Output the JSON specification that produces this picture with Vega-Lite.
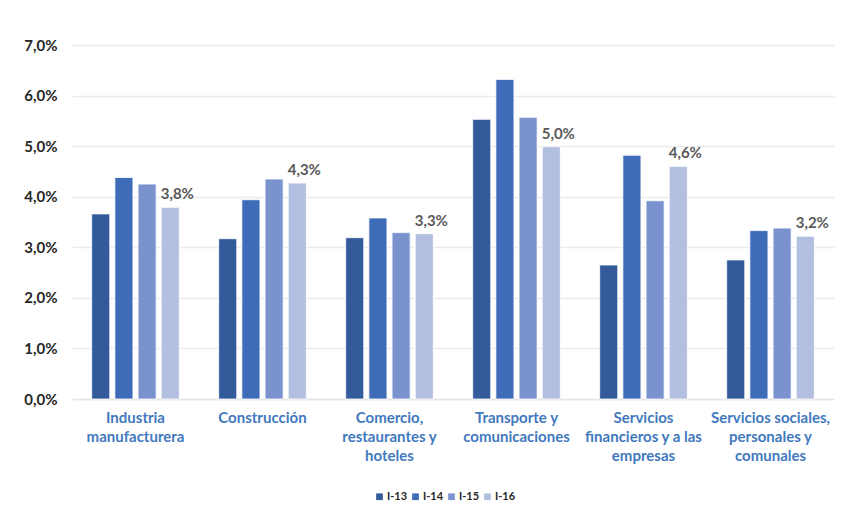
{
  "$schema": "https://vega.github.io/schema/vega-lite/v6.json",
  "autosize": "none",
  "width": 762,
  "height": 354,
  "padding": {"left": 72, "top": 45, "right": 17, "bottom": 119},
  "background": "white",
  "config": {
    "locale": {"number": {"decimal": ",", "thousands": ".", "grouping": [3], "currency": ["", " €"]}},
    "view": {"stroke": null},
    "font": "Lato"
  },
  "data": {
    "values": [
      {"sector": "Industria|manufacturera", "periodo": "I-13", "valor": 0.0366},
      {"sector": "Industria|manufacturera", "periodo": "I-14", "valor": 0.0438},
      {"sector": "Industria|manufacturera", "periodo": "I-15", "valor": 0.0425},
      {"sector": "Industria|manufacturera", "periodo": "I-16", "valor": 0.0379},
      {"sector": "Construcción", "periodo": "I-13", "valor": 0.0317},
      {"sector": "Construcción", "periodo": "I-14", "valor": 0.0394},
      {"sector": "Construcción", "periodo": "I-15", "valor": 0.0435},
      {"sector": "Construcción", "periodo": "I-16", "valor": 0.0427},
      {"sector": "Comercio,|restaurantes y|hoteles", "periodo": "I-13", "valor": 0.0319},
      {"sector": "Comercio,|restaurantes y|hoteles", "periodo": "I-14", "valor": 0.0358},
      {"sector": "Comercio,|restaurantes y|hoteles", "periodo": "I-15", "valor": 0.0329},
      {"sector": "Comercio,|restaurantes y|hoteles", "periodo": "I-16", "valor": 0.0327},
      {"sector": "Transporte y|comunicaciones", "periodo": "I-13", "valor": 0.0553},
      {"sector": "Transporte y|comunicaciones", "periodo": "I-14", "valor": 0.0632},
      {"sector": "Transporte y|comunicaciones", "periodo": "I-15", "valor": 0.0557},
      {"sector": "Transporte y|comunicaciones", "periodo": "I-16", "valor": 0.0499},
      {"sector": "Servicios|financieros y a las|empresas", "periodo": "I-13", "valor": 0.0265},
      {"sector": "Servicios|financieros y a las|empresas", "periodo": "I-14", "valor": 0.0482},
      {"sector": "Servicios|financieros y a las|empresas", "periodo": "I-15", "valor": 0.0392},
      {"sector": "Servicios|financieros y a las|empresas", "periodo": "I-16", "valor": 0.0460},
      {"sector": "Servicios sociales,|personales y|comunales", "periodo": "I-13", "valor": 0.0275},
      {"sector": "Servicios sociales,|personales y|comunales", "periodo": "I-14", "valor": 0.0333},
      {"sector": "Servicios sociales,|personales y|comunales", "periodo": "I-15", "valor": 0.0338},
      {"sector": "Servicios sociales,|personales y|comunales", "periodo": "I-16", "valor": 0.0322}
    ]
  },
  "encoding": {
    "x": {
      "field": "sector",
      "type": "nominal",
      "sort": null,
      "scale": {"paddingInner": 0.31, "paddingOuter": 0.155},
      "axis": {
        "title": null,
        "labelAngle": 0,
        "labelExpr": "split(datum.label, '|')",
        "labelFont": "Lato",
        "labelFontSize": 15,
        "labelFontWeight": "bold",
        "labelColor": "#4279BE",
        "labelLineHeight": 19,
        "labelPadding": 11,
        "labelBaseline": "top",
        "labelOverlap": false,
        "ticks": false,
        "domain": true,
        "domainColor": "#E6E6E6",
        "domainWidth": 1.5,
        "labelLimit": 200
      }
    },
    "xOffset": {
      "field": "periodo",
      "type": "nominal",
      "scale": {"paddingInner": 0.22, "paddingOuter": 0}
    },
    "y": {
      "field": "valor",
      "type": "quantitative",
      "scale": {"domain": [0, 0.07]},
      "axis": {
        "title": null,
        "format": ".1%",
        "values": [0, 0.01, 0.02, 0.03, 0.04, 0.05, 0.06, 0.07],
        "labelOverlap": false,
        "labelBound": false,
        "labelFont": "Lato",
        "labelFontSize": 15,
        "labelFontWeight": "bold",
        "labelColor": "#262626",
        "labelPadding": 15,
        "ticks": false,
        "domain": false,
        "gridColor": "#EBEBEB",
        "gridWidth": 1.5
      }
    }
  },
  "layer": [
    {
      "mark": {"type": "bar", "stroke": "white", "strokeWidth": 0.8},
      "encoding": {
        "color": {
          "field": "periodo",
          "type": "nominal",
          "scale": {
            "domain": ["I-13", "I-14", "I-15", "I-16"],
            "range": ["#335A9B", "#3F6CB9", "#7A93CF", "#B3BFE0"]
          },
          "legend": {
            "title": null,
            "orient": "none",
            "direction": "horizontal",
            "legendX": 302,
            "legendY": 446,
            "symbolType": "square",
            "symbolSize": 45,
            "symbolStrokeWidth": 0,
            "labelFont": "Lato",
            "labelFontSize": 11,
            "labelFontWeight": "bold",
            "labelColor": "#262626",
            "columnPadding": 2,
            "labelOffset": 2
          }
        }
      }
    },
    {
      "transform": [{"filter": "datum.periodo === 'I-16'"}],
      "mark": {
        "type": "text",
        "baseline": "bottom",
        "dy": -5,
        "dx": 7,
        "font": "Lato",
        "fontSize": 15,
        "fontWeight": "bold",
        "color": "#595959"
      },
      "encoding": {
        "text": {"field": "valor", "type": "quantitative", "format": ".1%"}
      }
    }
  ]
}
